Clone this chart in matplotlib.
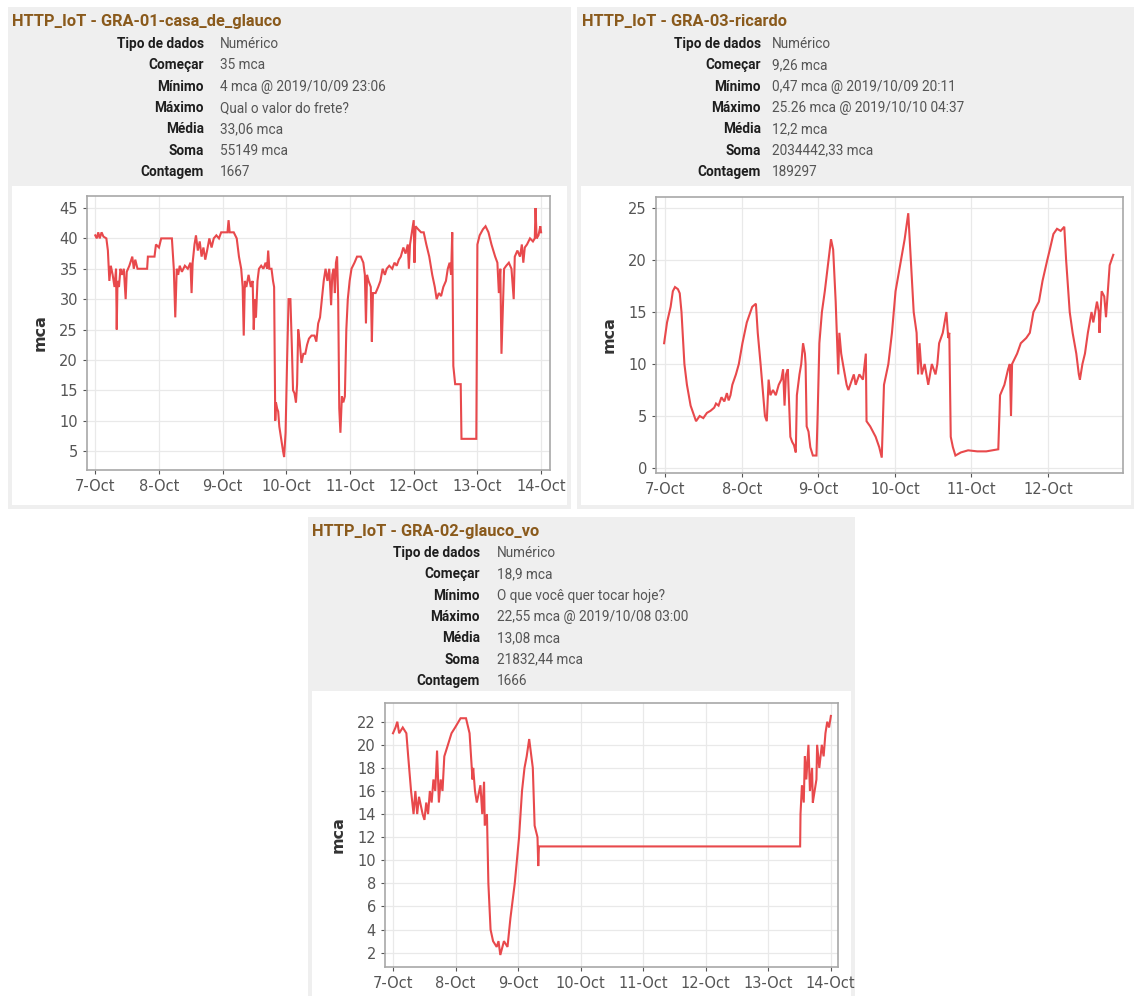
import matplotlib
matplotlib.use("Agg")
import matplotlib.pyplot as plt
from matplotlib.patches import Rectangle

W, H = 1134, 996

# ---------------- data (days since 2019-10-07 00:00, value in mca) ----------------
tick_labels = ["7-Oct", "8-Oct", "9-Oct", "10-Oct", "11-Oct", "12-Oct", "13-Oct", "14-Oct"]

p1_days = [0.000, 0.023, 0.047, 0.070, 0.099, 0.128, 0.174, 0.198, 0.221, 0.244, 0.273, 0.302, 0.326,
           0.337, 0.349, 0.372, 0.395, 0.419, 0.448, 0.477, 0.494, 0.535, 0.581, 0.605, 0.628, 0.663,
           0.738, 0.814, 0.826, 0.930, 0.953, 1.000, 1.035, 1.116, 1.203, 1.233, 1.256, 1.279, 1.302,
           1.326, 1.360, 1.407, 1.453, 1.494, 1.512, 1.529, 1.558, 1.581, 1.610, 1.640, 1.669, 1.698,
           1.727, 1.756, 1.791, 1.826, 1.860, 1.901, 1.942, 1.977, 2.035, 2.076, 2.093, 2.110, 2.174,
           2.221, 2.256, 2.291, 2.314, 2.331, 2.349, 2.372, 2.407, 2.442, 2.471, 2.488, 2.506, 2.523,
           2.547, 2.570, 2.605, 2.640, 2.674, 2.698, 2.715, 2.733, 2.767, 2.791, 2.808, 2.826, 2.837,
           2.855, 2.872, 2.890, 2.919, 2.948, 2.965, 2.988, 3.012, 3.035, 3.064, 3.087, 3.105, 3.128,
           3.151, 3.169, 3.186, 3.209, 3.238, 3.267, 3.297, 3.326, 3.355, 3.395, 3.442, 3.471, 3.500,
           3.529, 3.558, 3.587, 3.616, 3.645, 3.674, 3.703, 3.721, 3.744, 3.762, 3.779, 3.797, 3.814,
           3.831, 3.849, 3.872, 3.895, 3.919, 3.942, 3.965, 3.994, 4.023, 4.070, 4.110, 4.169, 4.209,
           4.233, 4.250, 4.267, 4.291, 4.326, 4.343, 4.360, 4.401, 4.442, 4.477, 4.512, 4.547, 4.576,
           4.616, 4.663, 4.698, 4.733, 4.767, 4.797, 4.837, 4.872, 4.907, 4.924, 4.942, 4.971, 5.000,
           5.012, 5.029, 5.070, 5.116, 5.157, 5.198, 5.244, 5.291, 5.331, 5.360, 5.395, 5.430, 5.465,
           5.506, 5.535, 5.564, 5.587, 5.605, 5.622, 5.651, 5.738, 5.750, 5.983, 6.000, 6.035, 6.087,
           6.128, 6.174, 6.221, 6.279, 6.314, 6.337, 6.360, 6.378, 6.395, 6.419, 6.453, 6.494, 6.535,
           6.570, 6.587, 6.628, 6.669, 6.698, 6.721, 6.744, 6.779, 6.826, 6.872, 6.901, 6.913, 6.930,
           6.959, 6.988, 7.000]
p1_vals = [40.5, 40, 41, 40, 41, 40.3, 40, 38, 33, 35.5, 34, 32, 35,
           25, 33, 32, 35, 34, 35, 30, 34.5, 35.5, 37, 35, 36.5, 35,
           35, 35, 37, 37, 39, 38.5, 40, 40, 40, 35, 27, 35, 34,
           35.5, 34.5, 35.5, 35, 36, 31, 36, 39, 40.5, 38, 39.5, 37, 38.5,
           36.5, 38, 40, 38.5, 40, 40.5, 40, 41, 41, 41, 43, 41, 41,
           40, 37, 35, 32, 24, 33, 32, 34, 32, 33, 25, 30, 27,
           33, 35, 35.5, 35, 36, 35, 38, 35, 35, 33, 32, 10, 13,
           12, 11.5, 9, 7, 5, 4, 8, 20, 30, 30, 22, 15, 14.5,
           13, 16, 25, 23, 19.5, 21, 21, 22.5, 23.5, 24, 24, 23, 26,
           27, 30, 33, 35, 33, 35, 29, 34, 35, 31, 36, 37, 30,
           12, 8, 14, 13, 14, 25, 30, 33, 35, 36, 37, 37, 36,
           34, 26, 34, 33, 32, 23, 31, 31, 32, 33, 35, 34, 35,
           35.5, 35, 36, 35.5, 36.5, 37, 38.5, 37.5, 39, 35, 39, 41, 43,
           36, 42, 41.5, 41, 41, 39, 37, 34, 32, 30, 31, 30.5, 32,
           33, 35, 36, 34, 41, 19, 16, 16, 7, 7, 39, 40.5, 41.5,
           42, 41, 39, 37, 36, 31, 35, 21, 27, 35, 35.5, 36, 35,
           30, 37, 38, 37, 39, 36, 38.5, 39, 40, 39.5, 40, 45, 40,
           40.5, 42, 41]

p2_days = [-0.014, 0.024, 0.071, 0.100, 0.128, 0.166, 0.190, 0.213, 0.251, 0.284, 0.332, 0.379, 0.403,
           0.450, 0.498, 0.545, 0.592, 0.640, 0.664, 0.697, 0.735, 0.773, 0.806, 0.829, 0.853, 0.877,
           0.924, 0.962, 1.009, 1.066, 1.137, 1.185, 1.209, 1.246, 1.280, 1.303, 1.327, 1.351, 1.374,
           1.408, 1.445, 1.483, 1.517, 1.540, 1.559, 1.578, 1.602, 1.635, 1.659, 1.682, 1.706, 1.720,
           1.754, 1.777, 1.801, 1.825, 1.834, 1.848, 1.872, 1.896, 1.929, 1.976, 1.991, 2.014, 2.047,
           2.085, 2.133, 2.166, 2.194, 2.227, 2.242, 2.251, 2.261, 2.275, 2.299, 2.322, 2.370, 2.393,
           2.441, 2.464, 2.488, 2.536, 2.583, 2.621, 2.630, 2.678, 2.749, 2.796, 2.829, 2.858, 2.915,
           2.962, 3.009, 3.081, 3.128, 3.175, 3.209, 3.246, 3.284, 3.303, 3.322, 3.351, 3.389, 3.436,
           3.483, 3.531, 3.555, 3.578, 3.626, 3.649, 3.673, 3.697, 3.711, 3.730, 3.758, 3.791, 3.863,
           3.957, 4.076, 4.194, 4.351, 4.374, 4.431, 4.479, 4.502, 4.517, 4.531, 4.597, 4.645, 4.716,
           4.763, 4.810, 4.882, 4.929, 4.991, 5.024, 5.071, 5.118, 5.166, 5.213, 5.237, 5.284, 5.322,
           5.370, 5.403, 5.417, 5.450, 5.483, 5.521, 5.569, 5.592, 5.640, 5.664, 5.673, 5.701, 5.735,
           5.758, 5.782, 5.806, 5.853]
p2_vals = [12, 14, 15.5, 17, 17.4, 17.2, 16.8, 15, 10, 8, 6, 5, 4.5,
           5, 4.8, 5.3, 5.5, 5.8, 6.2, 6, 6.8, 6.4, 7.2, 6.5, 7, 8,
           9, 10, 12, 14, 15.5, 15.8, 13, 10, 7, 5, 4.5, 8.5, 7,
           7.5, 7, 8, 8.5, 9.5, 6, 9, 9.5, 3, 2.5, 2.2, 1.5, 7,
           9, 10, 12, 11, 10, 4, 3.5, 2, 1.2, 1.2, 5, 12, 15,
           17, 20, 22, 21, 16, 13, 11, 9, 13, 11, 10, 8, 7.5,
           8.5, 9, 8, 9, 8.5, 11, 4.5, 4, 3, 2, 1, 8, 10,
           13, 17, 20, 22, 24.5, 20, 15, 13, 9, 12, 9, 10, 8,
           10, 9, 10, 12, 13, 14, 15, 12.5, 13, 3, 2, 1.2, 1.5,
           1.7, 1.6, 1.6, 1.8, 7, 8, 9.5, 10, 5, 10, 11, 12, 12.5,
           13, 15, 16, 18, 20, 21, 22.5, 23, 22.8, 23.2, 20, 15, 13,
           11, 9, 8.5, 10, 11, 13, 15, 14, 16, 15, 13, 17, 16.5,
           14.5, 17, 19.5, 20.5]

p3_days = [0.000, 0.040, 0.069, 0.098, 0.156, 0.214, 0.243, 0.289, 0.329, 0.358, 0.387, 0.416, 0.474,
           0.503, 0.532, 0.561, 0.590, 0.618, 0.647, 0.676, 0.705, 0.734, 0.763, 0.792, 0.821, 0.879,
           0.936, 0.994, 1.081, 1.168, 1.225, 1.272, 1.283, 1.312, 1.341, 1.399, 1.428, 1.457, 1.468,
           1.503, 1.526, 1.561, 1.601, 1.659, 1.688, 1.717, 1.775, 1.832, 1.879, 1.948, 2.017, 2.064,
           2.104, 2.139, 2.179, 2.237, 2.266, 2.312, 2.324, 2.335, 6.514, 6.520, 6.543, 6.572, 6.590,
           6.613, 6.647, 6.671, 6.705, 6.717, 6.746, 6.775, 6.786, 6.821, 6.861, 6.890, 6.919, 6.948,
           6.977, 7.006]
p3_vals = [21, 21.5, 22, 21, 21.5, 21, 19, 16, 14, 16, 14, 15.5, 14,
           13.5, 15, 14, 16, 15, 17, 16, 19.5, 15, 17, 16, 19, 20,
           21, 21.5, 22.3, 22.3, 21, 17, 18, 16, 15, 16.5, 14, 16.8, 13,
           14, 8, 4, 3, 2.5, 3, 1.8, 3, 2.5, 5, 8, 12, 16,
           18, 19, 20.5, 18, 13, 12, 9.5, 11.2, 11.2, 14, 16.5, 15, 19,
           17, 20, 16, 18, 15, 16, 17, 20, 18, 20, 19, 21, 22,
           21.5, 22.5]

p1_title = "HTTP_IoT - GRA-01-casa_de_glauco"
p2_title = "HTTP_IoT - GRA-03-ricardo"
p3_title = "HTTP_IoT - GRA-02-glauco_vo"
row_labels = ["Tipo de dados", "Começar", "Mínimo", "Máximo", "Média", "Soma", "Contagem"]
p1_info = ["Numérico", "35 mca", "4 mca @ 2019/10/09 23:06", "Qual o valor do frete?",
           "33,06 mca", "55149 mca", "1667"]
p2_info = ["Numérico", "9,26 mca", "0,47 mca @ 2019/10/09 20:11", "25.26 mca @ 2019/10/10 04:37",
           "12,2 mca", "2034442,33 mca", "189297"]
p3_info = ["Numérico", "18,9 mca", "O que você quer tocar hoje?", "22,55 mca @ 2019/10/08 03:00",
           "13,08 mca", "21832,44 mca", "1666"]
p1_yticks = [5, 10, 15, 20, 25, 30, 35, 40, 45]
p2_yticks = [0, 5, 10, 15, 20, 25]
p3_yticks = [2, 4, 6, 8, 10, 12, 14, 16, 18, 20, 22]

# ---------------- drawing ----------------
fig = plt.figure(figsize=(W / 100, H / 100), dpi=100)
fig.patch.set_facecolor("white")

bg = fig.add_axes([0, 0, 1, 1])
bg.set_xlim(0, W)
bg.set_ylim(H, 0)
bg.axis("off")

LINE = "#e8494c"
TITLE_C = "#8a5a1c"
HEAD_FONT = ["Roboto", "DejaVu Sans"]


def panel(box, inner, title, title_xy, label_right, value_x, row_y0, info):
    x0, y0, x1, y1 = box
    bg.add_patch(Rectangle((x0, y0), x1 - x0, y1 - y0, facecolor="#efefef", edgecolor="none"))
    ix0, iy0, ix1, iy1 = inner
    bg.add_patch(Rectangle((ix0, iy0), ix1 - ix0, iy1 - iy0, facecolor="white", edgecolor="none"))
    bg.text(title_xy[0], title_xy[1], title, color=TITLE_C, fontsize=11.8, fontweight="bold",
            family=HEAD_FONT, ha="left", va="center")
    for i, (lab, val) in enumerate(zip(row_labels, info)):
        yy = row_y0 + i * 21.3
        bg.text(label_right, yy, lab, color="#1e1e1e", fontsize=9.8, fontweight="bold",
                family=HEAD_FONT, ha="right", va="center")
        bg.text(value_x, yy, val, color="#555555", fontsize=9.8,
                family=HEAD_FONT, ha="left", va="center")


def chart(rect, days, vals, xlim, ylim, yticks, nticks):
    l, t, r, b = rect
    ax = fig.add_axes([l / W, 1 - b / H, (r - l) / W, (b - t) / H])
    ax.plot(days, vals, color=LINE, lw=1.5, solid_joinstyle="miter")
    ax.set_xlim(*xlim)
    ax.set_ylim(*ylim)
    ax.set_xticks(range(nticks))
    ax.set_xticklabels(tick_labels[:nticks], family="DejaVu Sans")
    ax.set_yticks(yticks)
    ax.set_yticklabels([str(v) for v in yticks], family="DejaVu Sans")
    ax.grid(True, color="#e9e9e9", lw=0.9)
    ax.set_axisbelow(True)
    for s in ax.spines.values():
        s.set_color("#a8a8a8")
        s.set_linewidth(1.2)
    ax.tick_params(axis="both", colors="#555555", labelsize=10.5, length=3, width=0.8,
                   labelcolor="#555555")
    ax.set_ylabel("mca", fontsize=11.5, fontweight="bold", color="#333333", labelpad=8,
                  family="DejaVu Sans")
    return ax


# panel 1
panel((8, 7, 571, 509), (12, 186, 567, 505), p1_title, (12, 21), 204, 220, 44, p1_info)
chart((87, 196, 550, 470), p1_days, p1_vals, (-0.13, 7.14), (1.87, 46.98), p1_yticks, 8)

# panel 2
panel((577, 7, 1134, 509), (581, 186, 1131, 505), p2_title, (582, 21), 761, 772, 44, p2_info)
chart((656, 197, 1123, 473), p2_days, p2_vals, (-0.12, 5.98), (-0.48, 26.06), p2_yticks, 6)

# panel 3
panel((308, 517, 855, 996), (312, 691, 851, 996), p3_title, (312, 531), 480, 497, 553, p3_info)
chart((385, 703, 838, 967), p3_days, p3_vals, (-0.128, 7.12), (0.76, 23.62), p3_yticks, 8)

fig.savefig("out.png", dpi=100, facecolor="white")
